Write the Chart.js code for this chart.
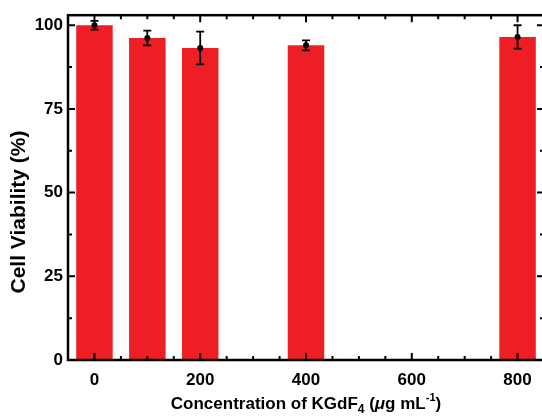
<!DOCTYPE html>
<html>
<head>
<meta charset="utf-8">
<script src="https://cdn.jsdelivr.net/npm/chart.js@4"></script>
<style>
  html, body { margin: 0; padding: 0; background: #fff; overflow: hidden; }
  canvas { display: block; }
</style>
</head>
<body>
<canvas id="myChart" width="546" height="416"></canvas>
<script>
// * Data
const concentrations = [0, 100, 200, 400, 800];
const viability = [100.0, 96.2, 93.2, 94.0, 96.5];
const viabilityErr = [1.3, 2.2, 4.9, 1.5, 3.5];

// * Tick positions
const xMinorTicks = [50, 100, 150, 250, 300, 350, 450, 500, 550, 650, 700, 750];
const yMinorTicks = [12.5, 37.5, 62.5, 87.5];
const xMajorTicks = [0, 200, 400, 600, 800];
const yMajorTicks = [0, 25, 50, 75, 100];

const FONT = '"Liberation Sans", Arial, sans-serif';

// * Error bars, inward ticks, frame and axis titles
const framePlugin = {
    id: "framePlugin",
    afterDatasetsDraw(chart) {
        const { ctx, chartArea: a, scales } = chart;
        const x = scales.x;
        const y = scales.y;
        ctx.save();
        ctx.strokeStyle = "#000";
        ctx.fillStyle = "#000";

        // error bars
        ctx.lineWidth = 1.8;
        concentrations.forEach((c, i) => {
            const px = x.getPixelForValue(c);
            const top = y.getPixelForValue(viability[i] + viabilityErr[i]);
            const bot = y.getPixelForValue(viability[i] - viabilityErr[i]);
            ctx.beginPath();
            ctx.moveTo(px, top);
            ctx.lineTo(px, bot);
            ctx.moveTo(px - 4, top);
            ctx.lineTo(px + 4, top);
            ctx.moveTo(px - 4, bot);
            ctx.lineTo(px + 4, bot);
            ctx.stroke();
            ctx.beginPath();
            ctx.arc(px, y.getPixelForValue(viability[i]), 3, 0, Math.PI * 2);
            ctx.fill();
        });

        // inward ticks on all four sides
        ctx.lineWidth = 2;
        const tick = (vals, len) => {
            vals.forEach((v) => {
                const px = x.getPixelForValue(v);
                ctx.beginPath();
                ctx.moveTo(px, a.bottom);
                ctx.lineTo(px, a.bottom - len);
                ctx.moveTo(px, a.top);
                ctx.lineTo(px, a.top + len);
                ctx.stroke();
            });
        };
        const ytick = (vals, len) => {
            vals.forEach((v) => {
                const py = y.getPixelForValue(v);
                ctx.beginPath();
                ctx.moveTo(a.left, py);
                ctx.lineTo(a.left + len, py);
                ctx.moveTo(a.right, py);
                ctx.lineTo(a.right - len, py);
                ctx.stroke();
            });
        };
        tick(xMajorTicks, 7);
        tick(xMinorTicks, 4);
        ytick(yMajorTicks, 7);
        ytick(yMinorTicks, 4);

        // frame
        ctx.lineWidth = 2.5;
        ctx.strokeRect(a.left, a.top, a.right - a.left, a.bottom - a.top);

        // y title
        ctx.save();
        ctx.translate(19, 212);
        ctx.rotate(-Math.PI / 2);
        ctx.font = "bold 21px " + FONT;
        ctx.textAlign = "center";
        ctx.textBaseline = "middle";
        ctx.fillText("Cell Viability (%)", 0, 0);
        ctx.restore();

        // x title with sub/superscripts
        const parts = [
            { t: "Concentration of KGdF", f: "bold 17px ", dy: 0 },
            { t: "4", f: "bold 12px ", dy: 4 },
            { t: " (", f: "bold 17px ", dy: 0 },
            { t: "\u03bc", f: "italic bold 17px ", dy: 0 },
            { t: "g mL", f: "bold 17px ", dy: 0 },
            { t: "-1", f: "bold 11px ", dy: -8 },
            { t: ")", f: "bold 17px ", dy: 0 },
        ];
        let total = 0;
        parts.forEach((p) => {
            ctx.font = p.f + FONT;
            p.w = ctx.measureText(p.t).width;
            total += p.w;
        });
        let cx = (a.left + a.right) / 2 - total / 2;
        ctx.textAlign = "left";
        ctx.textBaseline = "alphabetic";
        parts.forEach((p) => {
            ctx.font = p.f + FONT;
            ctx.fillText(p.t, cx, 409 + p.dy);
            cx += p.w;
        });
        ctx.restore();
    },
};

const config = {
    type: "bar",
    data: {
        datasets: [
            {
                data: concentrations.map((c, i) => ({ x: c, y: viability[i] })),
                backgroundColor: "#ED1F24",
                borderWidth: 0,
                barPercentage: 0.69,
                categoryPercentage: 1,
            },
        ],
    },
    options: {
        responsive: false,
        animation: false,
        layout: { padding: { top: 15, right: 2, left: 0, bottom: 0 } },
        plugins: {
            legend: false,
            tooltip: { enabled: false },
        },
        scales: {
            x: {
                type: "linear",
                position: "bottom",
                min: -50,
                max: 850,
                offset: false,
                grid: { display: false, drawTicks: false },
                border: { display: false },
                ticks: {
                    stepSize: 200,
                    includeBounds: false,
                    padding: 10,
                    color: "#000",
                    font: { family: FONT, size: 17, weight: "bold" },
                },
                afterFit: (s) => {
                    s.height = 56;
                },
            },
            y: {
                min: 0,
                max: 103,
                grid: { display: false, drawTicks: false },
                border: { display: false },
                ticks: {
                    stepSize: 25,
                    includeBounds: false,
                    padding: 5,
                    color: "#000",
                    font: { family: FONT, size: 17, weight: "bold" },
                },
                afterFit: (s) => {
                    s.width = 68;
                },
            },
        },
    },
    plugins: [framePlugin],
};

const ctx = document.getElementById("myChart").getContext("2d");
const chart = new Chart(ctx, config);
</script>
</body>
</html>
